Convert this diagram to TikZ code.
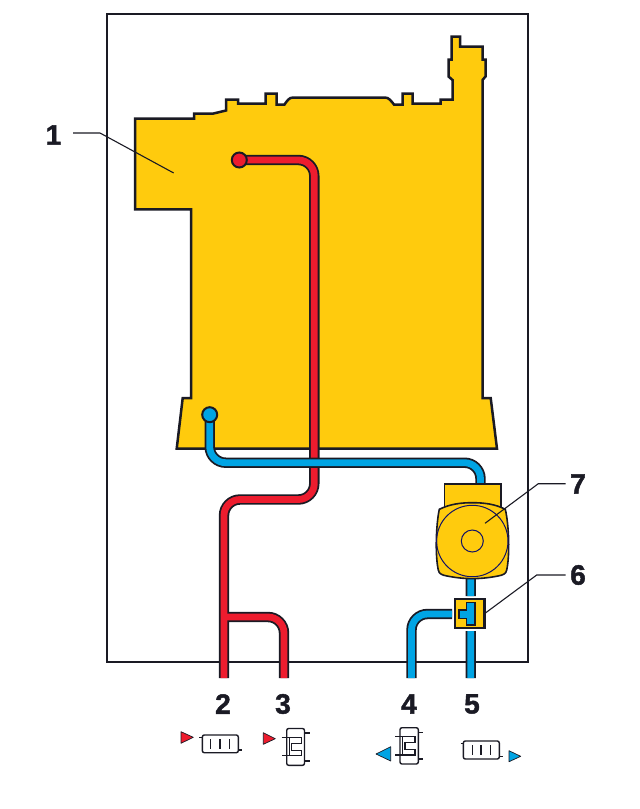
\documentclass[tikz,border=0pt]{standalone}
\usepackage{fontspec}
\setmainfont{Liberation Sans}
\newfontfamily\numfont[FakeBold=1.6]{Liberation Sans Bold}
\definecolor{yel}{HTML}{FFCB0D}
\definecolor{rd}{HTML}{ED1C2E}
\definecolor{bl}{HTML}{00A4E4}
\definecolor{ink}{HTML}{1A1A24}
\tikzset{
  body/.style={draw=ink,fill=yel,line width=2.5pt,line join=miter},
  thin/.style={draw=ink!70!blue,line width=1pt},
  leader/.style={draw=ink,line width=1.1pt},
  num/.style={font=\fontsize{28}{28}\numfont,text=ink,inner sep=0pt},
  icon/.style={draw=ink,line width=1.4pt},
  tri/.style={draw=ink,line width=.7pt,line join=round},
  pipeO/.style={draw=ink,line width=10.4pt,rounded corners=16pt},
  pipeR/.style={draw=rd,line width=6.8pt,rounded corners=16pt},
  pipeB/.style={draw=bl,line width=6.8pt,rounded corners=16pt},
}
\begin{document}
\begin{tikzpicture}[x=1pt,y=-1pt]
\useasboundingbox (0,0) rectangle (640,809);
\draw[ink,line width=2pt] (107,14) rectangle (528,662);
% boiler
\path[body] (135,118.5) -- (194,118.5) -- (194,113.5) -- (213.5,113.5) -- (226,110.5) -- (226,99.5) -- (238,99.5) -- (238,103.5) -- (265.5,103.5) -- (265.5,93.5) -- (276.5,93.5) -- (276.5,104.5) -- (284.5,104.5) .. controls (287,101) and (289,97.5) .. (293,97.5) -- (385,97.5) .. controls (389,97.5) and (391,101) .. (394,104.5) -- (402.5,104.5) -- (402.5,93.5) -- (412.5,93.5) -- (412.5,103.5) -- (440.5,103.5) -- (440.5,99.5) -- (452.5,99.5) -- (452.5,80) -- (448.5,76.5) -- (448.5,59.5) -- (451.5,59.5) -- (451.5,36.5) -- (460,36.5) -- (460,46.5) -- (482.5,46.5) -- (482.5,59.5) -- (485.5,59.5) -- (485.5,76.5) -- (482.5,80) -- (482.5,398) -- (490.7,398) -- (497,448.7) -- (176.7,448.7) -- (182.7,398) -- (191,398) -- (191,209.3) -- (135,209.3) -- cycle;
% red pipes
\coordinate (rs) at (239.3,160);
\coordinate (rc1) at (314.3,160);
\coordinate (rc2) at (314.3,499.5);
\coordinate (rc3) at (224,499.5);
\coordinate (re2) at (224,678);
\coordinate (rb) at (224,617);
\coordinate (rc4) at (284,617);
\coordinate (re3) at (284,678);
\path[pipeO] (rb) -- (rc4) -- (re3);
\path[pipeO] (rs) -- (rc1) -- (rc2) -- (rc3) -- (re2);
\path[pipeR] (rb) -- (rc4) -- (re3);
\path[pipeR] (rs) -- (rc1) -- (rc2) -- (rc3) -- (re2);
\node[circle,draw=ink,fill=rd,line width=2pt,minimum size=15pt,inner sep=0pt] (rdot) at (rs) {};
% blue pipe
\coordinate (bs) at (209.7,414.7);
\coordinate (bc1) at (209.7,462.7);
\coordinate (bc2) at (480.5,462.7);
\coordinate (be) at (480.5,485);
\path[pipeO] (bs) -- (bc1) -- (bc2) -- (be);
\path[pipeB] (bs) -- (bc1) -- (bc2) -- (be);
\node[circle,draw=ink,fill=bl,line width=2pt,minimum size=15pt,inner sep=0pt] (bdot) at (bs) {};
% lower blue pipes
\coordinate (v1) at (470.7,570);
\coordinate (v2) at (470.7,596);
\coordinate (v3) at (470.7,631);
\coordinate (v4) at (470.7,678);
\coordinate (h1) at (452,614);
\coordinate (h2) at (411.5,614);
\coordinate (h3) at (411.5,678);
\path[pipeO] (v1) -- (v2) (v3) -- (v4) (h1) -- (h2) -- (h3);
\path[pipeB] (v1) -- (v2) (v3) -- (v4) (h1) -- (h2) -- (h3);
% pump
\path[body,line width=1.6pt] (444.3,484) rectangle (500.7,507);
\path[body,line width=1.6pt] (439.3,509.3) .. controls (450,504) and (461,502.7) .. (472.3,502.7) .. controls (484,502.7) and (495,504) .. (505.3,509.3) .. controls (509,525) and (510,555) .. (506.7,570) .. controls (506,574) and (503,575) .. (498,576) .. controls (480,579.5) and (465,579.5) .. (447,576) .. controls (442,575) and (439,574) .. (438.3,570) .. controls (435,555) and (436,525) .. (439.3,509.3) -- cycle;
\node[circle,thin,minimum size=71.4pt,inner sep=0pt] (pumpc) at (472.3,541) {};
\node[circle,thin,minimum size=22pt,inner sep=0pt] (pumpi) at (472.3,541) {};
% valve
\node[draw=ink,fill=yel,line width=2.2pt,minimum width=29.5pt,minimum height=29.5pt,inner sep=0pt] (valve) at (469.7,613.5) {};
\path[draw=ink,fill=bl,line width=1.2pt] (466.7,602.7) -- (475,602.7) -- (475,625) -- (466.7,625) -- (466.7,618.3) -- (459,618.3) -- (459,610) -- (466.7,610) -- cycle;
% leaders
\coordinate (l1a) at (73,133);
\coordinate (l1b) at (100,133);
\coordinate (l1c) at (173.7,173);
\coordinate (l7a) at (565.7,483.7);
\coordinate (l7b) at (538.3,483.7);
\coordinate (l7c) at (485,523.3);
\coordinate (l6a) at (565.7,575);
\coordinate (l6b) at (536.7,575);
\coordinate (l6c) at (485,613.3);
\path[leader] (l1a) -- (l1b) -- (l1c);
\path[leader] (l7a) -- (l7b) -- (l7c);
\path[leader] (l6a) -- (l6b) -- (l6c);
% numbers
\node[num] (n1) at (53.5,135) {1};
\node[num] (n7) at (578,484) {7};
\node[num] (n6) at (578,575) {6};
\node[num] (n2) at (223,704) {2};
\node[num] (n3) at (283,704) {3};
\node[num] (n4) at (409,704) {4};
\node[num] (n5) at (472,704) {5};
% icon 2
\path[fill=rd,tri] (181,731.7) -- (193.3,737.3) -- (181,743.3) -- cycle;
\path[icon,rounded corners=2pt] (202.3,735) rectangle (238.3,752.7);
\path[icon] (199.3,737.3) -- (202.3,737.3) (238.3,750) -- (241.7,750) (210.7,739.3) -- (210.7,749) (220,739.3) -- (220,749) (229.3,739.3) -- (229.3,749);
% icon 3
\path[fill=rd,tri] (263.3,732.7) -- (275.3,738.7) -- (263.3,744.3) -- cycle;
\path[icon,rounded corners=2pt] (286.7,728.5) rectangle (304.5,765.3);
\path[icon] (304.5,733) -- (310,733) (304.5,761) -- (310,761) (281.7,737.7) -- (301.7,737.7) -- (301.7,743.7) -- (291.7,743.7) -- (291.7,750.3) -- (301.7,750.3) -- (301.7,755.3) -- (281.7,755.3) (289.3,737.7) -- (289.3,755.3);
% icon 4
\path[fill=bl,tri] (390.7,746.7) -- (376,754) -- (390.7,761) -- cycle;
\path[icon,rounded corners=2pt] (400,727.7) rectangle (418.3,764);
\path[icon] (418.3,732.3) -- (423.3,732.3) (418.3,759) -- (423.3,759) (395,736.7) -- (415,736.7) -- (415,742.7) -- (405,742.7) -- (405,749.5) -- (415,749.5) -- (415,755) -- (395,755) (402.7,736.7) -- (402.7,755);
% icon 5
\path[fill=bl,tri] (509,750.7) -- (520.7,756.3) -- (509,761.7) -- cycle;
\path[icon,rounded corners=2pt] (463.3,741) rectangle (499.3,759);
\path[icon] (460.7,743.3) -- (463.3,743.3) (499.3,756.3) -- (502.7,756.3) (472.3,745) -- (472.3,755) (481,745) -- (481,755) (490.3,745) -- (490.3,755);
\end{tikzpicture}
\end{document}
